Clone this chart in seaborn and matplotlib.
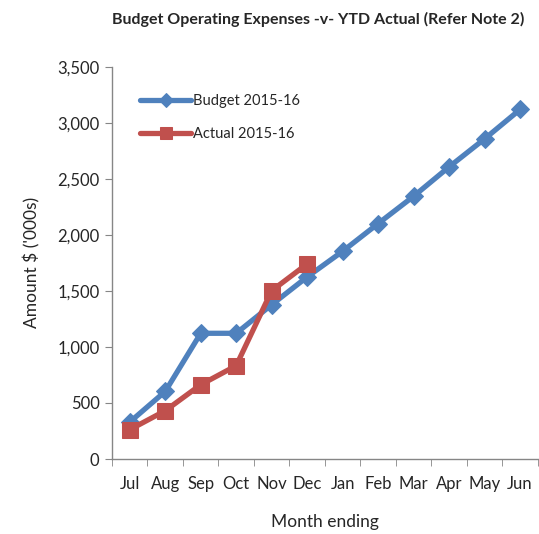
import pandas as pd
import seaborn as sns
from matplotlib import pyplot as plt
from matplotlib.ticker import FuncFormatter, MultipleLocator

# data
months = ['Jul', 'Aug', 'Sep', 'Oct', 'Nov', 'Dec', 'Jan', 'Feb', 'Mar', 'Apr', 'May', 'Jun']
budget = [330, 603, 1122, 1122, 1377, 1625, 1854, 2101, 2345, 2607, 2857, 3119]
actual = [262, 431, 663, 833, 1502, 1741]

blue = '#4F81BD'
red = '#C0504D'

df_b = pd.DataFrame({'pos': range(len(budget)), 'value': budget})
df_a = pd.DataFrame({'pos': range(len(actual)), 'value': actual})

sns.set_style('white')
plt.rcParams['font.family'] = ['Lato', 'DejaVu Sans']

fig = plt.figure(figsize=(5.39, 5.34), dpi=100)
ax = fig.add_axes([0.2078, 0.1404, 0.790, 0.7345])

sns.lineplot(data=df_b, x='pos', y='value', ax=ax, color=blue, lw=3.8,
             marker='D', markersize=9.5, markeredgecolor=blue, label='Budget 2015-16')
sns.lineplot(data=df_a, x='pos', y='value', ax=ax, color=red, lw=3.8,
             marker='s', markersize=12, markeredgecolor=red, label='Actual 2015-16')

ax.set_xlim(-0.5, len(months) - 0.5)
ax.set_ylim(0, 3500)
ax.set_xticks(range(len(months)))
ax.set_xticklabels(months)
ax.xaxis.set_minor_locator(MultipleLocator(1, offset=0.5))
ax.tick_params(axis='x', which='major', length=0, pad=12, labelsize=12)
ax.tick_params(axis='x', which='minor', length=5, color='#868686', bottom=True)
ax.yaxis.set_major_locator(MultipleLocator(500))
ax.yaxis.set_major_formatter(FuncFormatter(lambda v, p: f'{int(v):,}'))
ax.tick_params(axis='y', length=5, color='#868686', left=True, labelsize=12, pad=4)

for s in ['top', 'right']:
    ax.spines[s].set_visible(False)
for s in ['left', 'bottom']:
    ax.spines[s].set_color('#868686')
    ax.spines[s].set_linewidth(1)

ax.set_xlabel('Month ending', fontsize=12.5, labelpad=16)
ax.set_ylabel("Amount $ ('000s)", fontsize=12.5, labelpad=12)
fig.suptitle('Budget Operating Expenses -v- YTD Actual (Refer Note 2)',
             fontsize=11.5, fontweight='bold', x=0.59, y=0.978)

ax.legend(loc='upper left', bbox_to_anchor=(0.035, 0.965), frameon=False,
          fontsize=10.5, handlelength=3.5, handletextpad=0.1, labelspacing=1.35,
          markerscale=0.7)

fig.savefig('out.png', dpi=100)
